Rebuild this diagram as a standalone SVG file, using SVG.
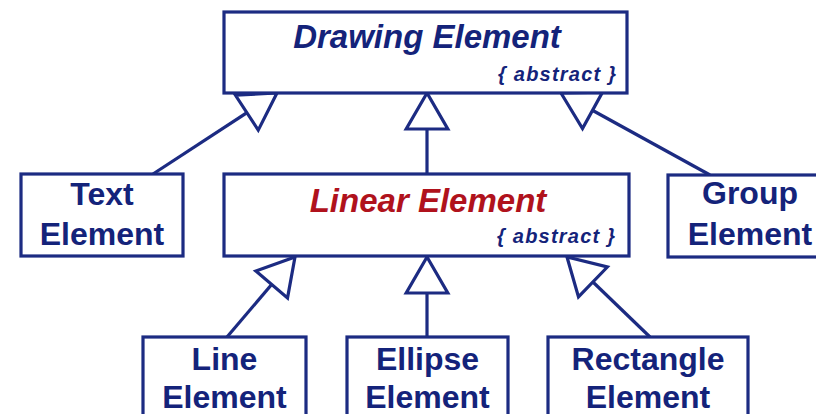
<svg xmlns="http://www.w3.org/2000/svg" width="816" height="414" viewBox="0 0 816 414">
  <style>
    .box { fill: #ffffff; stroke: #1c2b82; stroke-width: 3.2; }
    .conn { fill: none; stroke: #1c2b82; stroke-width: 3.2; }
    .name { font-family: "Liberation Sans", Arial, sans-serif; font-weight: bold; font-size: 32px; fill: #14237a; text-anchor: middle; }
    .title { font-family: "Liberation Sans", Arial, sans-serif; font-weight: bold; font-style: italic; font-size: 33px; text-anchor: middle; }
    .abs { font-family: "Liberation Sans", Arial, sans-serif; font-weight: bold; font-style: italic; font-size: 20px; fill: #14237a; text-anchor: end; }
  </style>
  <defs>
    <marker id="gen" viewBox="-40 -24 44 48" markerWidth="44" markerHeight="48" refX="0" refY="0" orient="auto" markerUnits="userSpaceOnUse" overflow="visible">
      <path d="M0,0 L-36,-20.8 L-36,20.8 Z" fill="#ffffff" stroke="#1c2b82" stroke-width="3.2" stroke-linejoin="miter"/>
    </marker>
  </defs>
  <rect width="816" height="414" fill="#ffffff"/>

  <g id="connectors">
    <line class="conn" x1="153" y1="174" x2="277" y2="93" marker-end="url(#gen)"/>
    <line class="conn" x1="427" y1="174" x2="427" y2="93" marker-end="url(#gen)"/>
    <line class="conn" x1="710" y1="175" x2="561" y2="93" marker-end="url(#gen)"/>
    <line class="conn" x1="227" y1="337" x2="295" y2="257" marker-end="url(#gen)"/>
    <line class="conn" x1="427" y1="337" x2="427" y2="257" marker-end="url(#gen)"/>
    <line class="conn" x1="650" y1="337" x2="567" y2="257" marker-end="url(#gen)"/>
  </g>

  <g id="drawing-element">
    <rect class="box" x="224" y="12" width="403" height="81"/>
    <text class="title" x="427" y="48" fill="#14237a">Drawing Element</text>
    <text class="abs" x="616" y="81" textLength="118" lengthAdjust="spacing">{ abstract }</text>
  </g>

  <g id="text-element">
    <rect class="box" x="21" y="174" width="162" height="82"/>
    <text class="name" x="102" y="205">Text</text>
    <text class="name" x="102" y="245">Element</text>
  </g>

  <g id="linear-element">
    <rect class="box" x="224" y="174" width="405" height="82"/>
    <text class="title" x="428" y="212" fill="#b0121c">Linear Element</text>
    <text class="abs" x="615" y="243" textLength="118" lengthAdjust="spacing">{ abstract }</text>
  </g>

  <g id="group-element">
    <rect class="box" x="668" y="175" width="170" height="82"/>
    <text class="name" x="750" y="204">Group</text>
    <text class="name" x="750" y="245">Element</text>
  </g>

  <g id="line-element">
    <rect class="box" x="143" y="337" width="163" height="100"/>
    <text class="name" x="224.5" y="370">Line</text>
    <text class="name" x="224.5" y="408">Element</text>
  </g>

  <g id="ellipse-element">
    <rect class="box" x="347" y="337" width="161" height="100"/>
    <text class="name" x="427.5" y="370">Ellipse</text>
    <text class="name" x="427.5" y="408">Element</text>
  </g>

  <g id="rectangle-element">
    <rect class="box" x="548" y="337" width="200" height="100"/>
    <text class="name" x="648" y="370">Rectangle</text>
    <text class="name" x="648" y="408">Element</text>
  </g>
</svg>
